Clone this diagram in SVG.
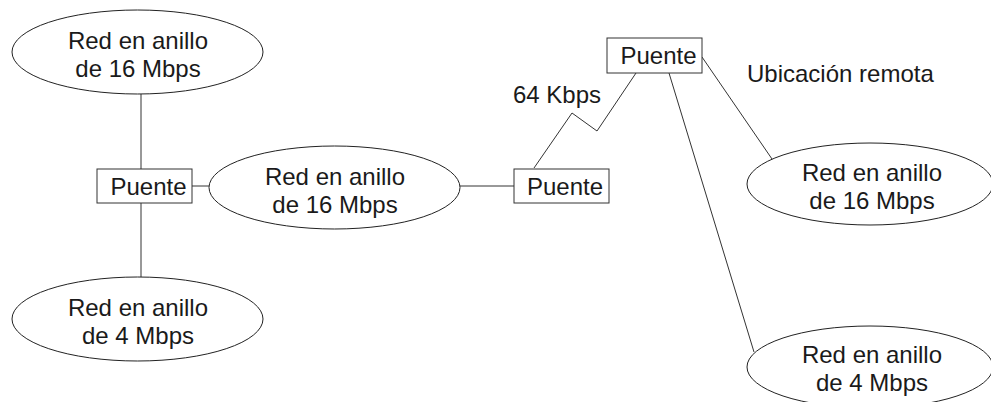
<svg xmlns="http://www.w3.org/2000/svg" width="991" height="402" viewBox="0 0 991 402">
<style>
.net{fill:#fff;stroke:#222;stroke-width:1}
.box{fill:#fff;stroke:#333;stroke-width:1}
.lbl{font-family:"Liberation Sans",Arial,sans-serif;font-size:24px;fill:#1a1a1a;text-anchor:middle}
.free{font-family:"Liberation Sans",Arial,sans-serif;font-size:24px;fill:#1a1a1a}
.wire{fill:none;stroke:#333;stroke-width:1}
</style>
<rect width="991" height="402" fill="#fff"/>
<g id="connectors">
<line class="wire" x1="141" y1="94" x2="141" y2="169"/>
<line class="wire" x1="141" y1="203" x2="141" y2="277"/>
<line class="wire" x1="192" y1="186" x2="209" y2="186"/>
<line class="wire" x1="460" y1="186" x2="514" y2="186"/>
<polyline class="wire" points="534,168 572,113 597,131 636,73"/>
<line class="wire" x1="702" y1="57" x2="772" y2="159"/>
<line class="wire" x1="669" y1="73" x2="754" y2="352"/>
</g>
<g id="ring-top-left">
<ellipse class="net" cx="137.5" cy="52" rx="125.5" ry="42"/>
<text class="lbl" x="138" y="49">Red en anillo</text>
<text class="lbl" x="138" y="77">de 16 Mbps</text>
</g>
<g id="ring-bottom-left">
<ellipse class="net" cx="137.5" cy="319" rx="125.5" ry="42"/>
<text class="lbl" x="138" y="316">Red en anillo</text>
<text class="lbl" x="138" y="344">de 4 Mbps</text>
</g>
<g id="ring-middle">
<ellipse class="net" cx="334.5" cy="187.5" rx="125.5" ry="41.5"/>
<text class="lbl" x="335" y="184.5">Red en anillo</text>
<text class="lbl" x="335" y="212.5">de 16 Mbps</text>
</g>
<g id="ring-right-top">
<ellipse class="net" cx="870" cy="184" rx="123" ry="41"/>
<text class="lbl" x="872" y="181">Red en anillo</text>
<text class="lbl" x="872" y="209">de 16 Mbps</text>
</g>
<g id="ring-right-bottom">
<ellipse class="net" cx="870" cy="367" rx="123" ry="41"/>
<text class="lbl" x="872" y="363">Red en anillo</text>
<text class="lbl" x="872" y="391">de 4 Mbps</text>
</g>
<g id="bridge-left">
<rect class="box" x="97" y="169" width="95" height="34"/>
<text class="lbl" x="148.5" y="194.5">Puente</text>
</g>
<g id="bridge-middle">
<rect class="box" x="514" y="169" width="95" height="34"/>
<text class="lbl" x="565" y="194.5">Puente</text>
</g>
<g id="bridge-remote">
<rect class="box" x="607" y="38" width="95" height="35"/>
<text class="lbl" x="658.5" y="64">Puente</text>
</g>
<g id="labels">
<text class="free" x="513" y="103">64 Kbps</text>
<text class="free" x="747" y="82">Ubicación remota</text>
</g>
</svg>
